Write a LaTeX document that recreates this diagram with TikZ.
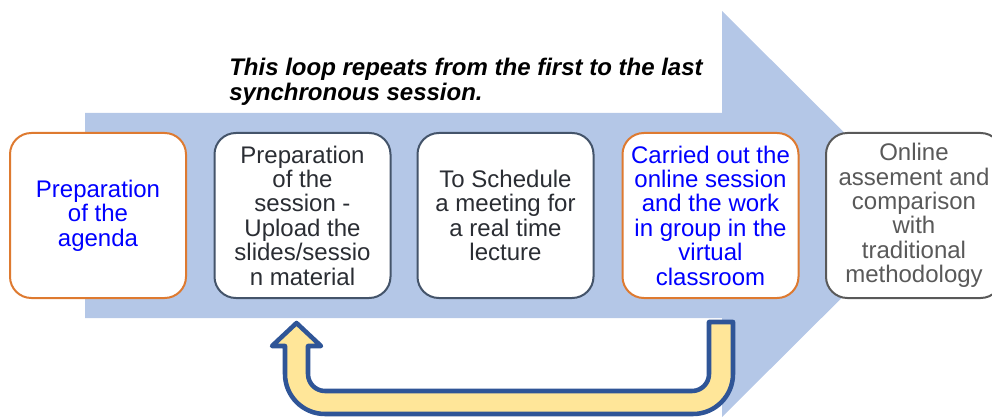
\documentclass[tikz,border=0pt]{standalone}
\usepackage{fontspec}
\setmainfont{Liberation Sans}
\usepackage{xcolor}

\definecolor{arrowblue}{HTML}{B4C7E7}
\definecolor{boxorange}{HTML}{DE7A30}
\definecolor{boxslate}{HTML}{44546A}
\definecolor{boxgray}{HTML}{595959}
\definecolor{textdark}{HTML}{2A2D33}
\definecolor{loopfill}{HTML}{FFE699}
\definecolor{loopline}{HTML}{2F5597}

\begin{document}
\begin{tikzpicture}[x=0.75pt,y=-0.75pt,
  stage/.style={draw,line width=1.5pt,fill=white,rounded corners=16pt,
    minimum width=132pt,minimum height=123.75pt,inner sep=0pt,align=center,
    font=\fontsize{18}{18.3}\selectfont},
  orangebox/.style={stage,draw=boxorange,text=blue},
  slatebox/.style={stage,draw=boxslate,text=textdark},
  graybox/.style={stage,draw=boxgray,text=boxgray}]
\useasboundingbox (0,0) rectangle (992,417);
% Big arrow
\fill[arrowblue] (85,113) -- (722,113) -- (722,11) -- (926,214) -- (722,417)
  -- (722,318) -- (85,318) -- cycle;
% Note
\node[anchor=north west,inner sep=0pt,align=left,
  font=\fontsize{18}{18.75}\selectfont\bfseries\itshape] (note) at (229,57.5)
  {This loop repeats from the first to the last\\synchronous session.};
% Stages
\node[orangebox] (agenda) at (98,215.5) {Preparation\\of the\\agenda};
\node[slatebox] (upload) at (302.5,215.5) {Preparation\\of the\\session -\\Upload the\\slides/sessio\\n material};
\node[slatebox] (meeting) at (505.5,215.5) {To Schedule\\a meeting for\\a real time\\lecture};
\node[orangebox] (online) at (710.5,215.5) {Carried out the\\online session\\and the work\\in group in the\\virtual\\classroom};
\node[graybox] (assess) at (914,215.5) {Online\\assement and\\comparison\\with\\traditional\\methodology};
% Loop arrow
\draw[loopline,fill=loopfill,line width=3.4pt,line join=round]
  (709,322) -- (733,322) -- (733,374) arc[start angle=0,end angle=90,radius=40]
  -- (325,414) arc[start angle=90,end angle=180,radius=40]
  -- (285,346) -- (272,346) -- (296.5,323) -- (321,346) -- (308,346)
  -- (308,374) arc[start angle=180,end angle=90,radius=17]
  -- (692,391) arc[start angle=90,end angle=0,radius=17] -- cycle;
\end{tikzpicture}
\end{document}
